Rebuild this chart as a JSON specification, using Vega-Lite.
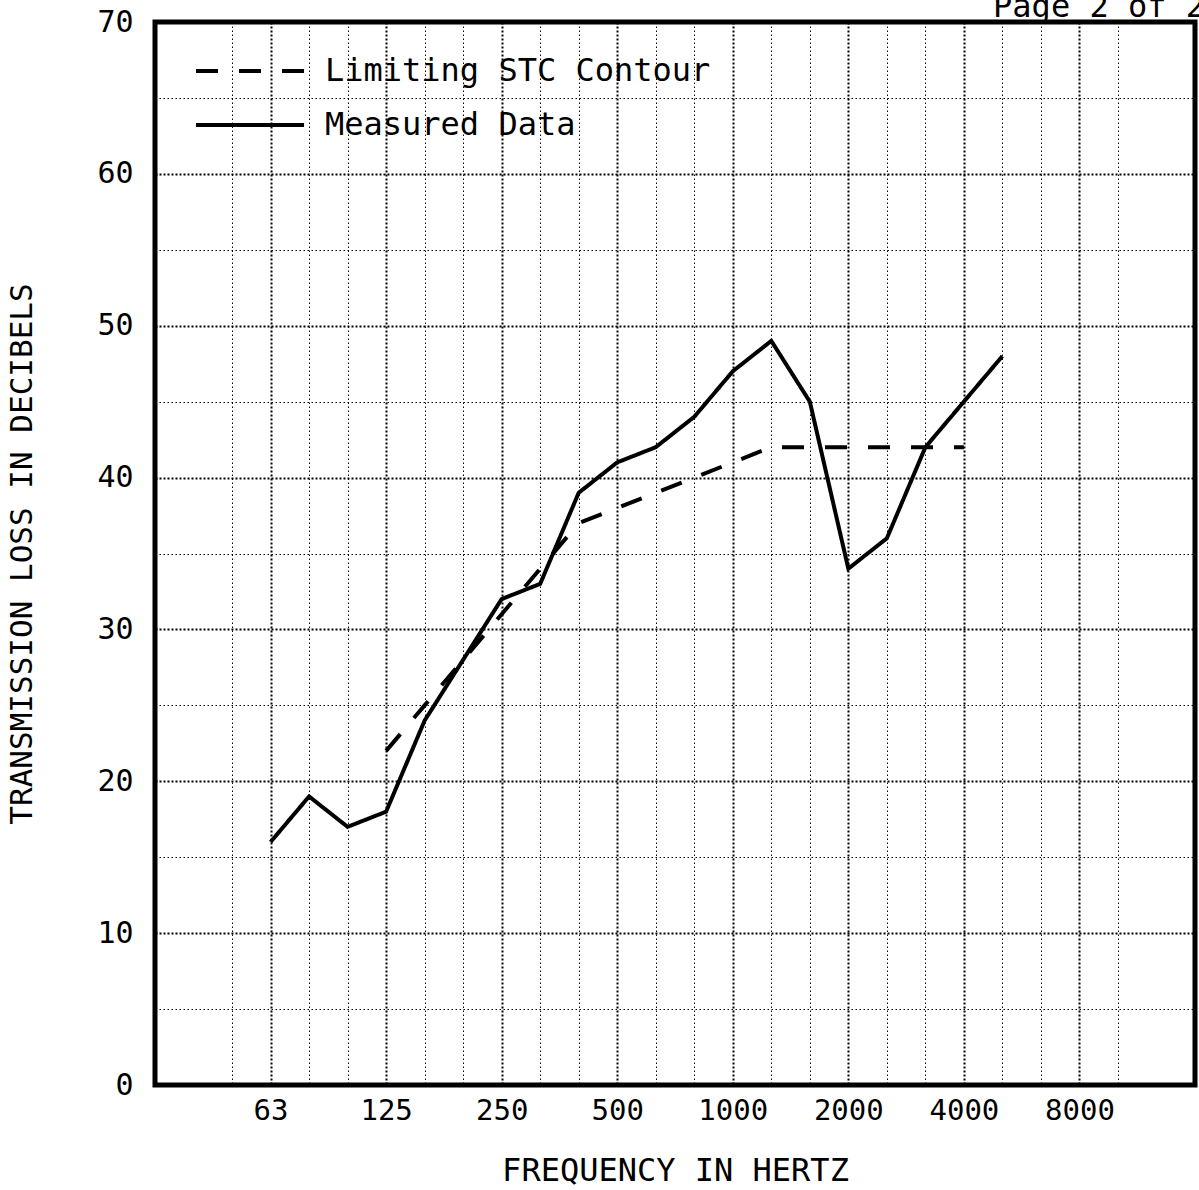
{
  "$schema": "https://vega.github.io/schema/vega-lite/v6.json",
  "width": 1040,
  "height": 1063,
  "autosize": {"type": "none"},
  "padding": {"left": 155, "top": 22, "right": 4, "bottom": 105},
  "background": "white",
  "title": {
    "text": "Page 2 of 2",
    "anchor": "end",
    "frame": "group",
    "orient": "top",
    "offset": 0,
    "dy": 42,
    "baseline": "alphabetic",
    "dx": 10,
    "font": "DejaVu Sans Mono",
    "fontSize": 32,
    "fontWeight": "normal",
    "color": "black"
  },
  "data": {
    "values": [
      {"series": "Measured Data", "freq": 63, "tl": 16},
      {"series": "Measured Data", "freq": 80, "tl": 19},
      {"series": "Measured Data", "freq": 100, "tl": 17},
      {"series": "Measured Data", "freq": 125, "tl": 18},
      {"series": "Measured Data", "freq": 160, "tl": 24},
      {"series": "Measured Data", "freq": 200, "tl": 28},
      {"series": "Measured Data", "freq": 250, "tl": 32},
      {"series": "Measured Data", "freq": 315, "tl": 33},
      {"series": "Measured Data", "freq": 400, "tl": 39},
      {"series": "Measured Data", "freq": 500, "tl": 41},
      {"series": "Measured Data", "freq": 630, "tl": 42},
      {"series": "Measured Data", "freq": 800, "tl": 44},
      {"series": "Measured Data", "freq": 1000, "tl": 47},
      {"series": "Measured Data", "freq": 1250, "tl": 49},
      {"series": "Measured Data", "freq": 1600, "tl": 45},
      {"series": "Measured Data", "freq": 2000, "tl": 34},
      {"series": "Measured Data", "freq": 2500, "tl": 36},
      {"series": "Measured Data", "freq": 3150, "tl": 42},
      {"series": "Measured Data", "freq": 4000, "tl": 45},
      {"series": "Measured Data", "freq": 5000, "tl": 48},
      {"series": "Limiting STC Contour", "freq": 125, "tl": 22},
      {"series": "Limiting STC Contour", "freq": 160, "tl": 25},
      {"series": "Limiting STC Contour", "freq": 200, "tl": 28},
      {"series": "Limiting STC Contour", "freq": 250, "tl": 31},
      {"series": "Limiting STC Contour", "freq": 315, "tl": 34},
      {"series": "Limiting STC Contour", "freq": 400, "tl": 37},
      {"series": "Limiting STC Contour", "freq": 500, "tl": 38},
      {"series": "Limiting STC Contour", "freq": 630, "tl": 39},
      {"series": "Limiting STC Contour", "freq": 800, "tl": 40},
      {"series": "Limiting STC Contour", "freq": 1000, "tl": 41},
      {"series": "Limiting STC Contour", "freq": 1250, "tl": 42},
      {"series": "Limiting STC Contour", "freq": 1600, "tl": 42},
      {"series": "Limiting STC Contour", "freq": 2000, "tl": 42},
      {"series": "Limiting STC Contour", "freq": 2500, "tl": 42},
      {"series": "Limiting STC Contour", "freq": 3150, "tl": 42},
      {"series": "Limiting STC Contour", "freq": 4000, "tl": 42}
    ]
  },
  "mark": {"type": "line", "strokeWidth": 4, "color": "black", "strokeCap": "butt", "strokeJoin": "miter"},
  "encoding": {
    "x": {
      "field": "freq",
      "type": "ordinal",
      "scale": {
        "type": "point",
        "domain": [31.5, 40, 50, 63, 80, 100, 125, 160, 200, 250, 315, 400, 500, 630, 800, 1000, 1250, 1600, 2000, 2500, 3150, 4000, 5000, 6300, 8000, 10000, 12500, 16000],
        "padding": 0
      },
      "axis": {
        "title": "FREQUENCY IN HERTZ",
        "values": [50, 63, 80, 100, 125, 160, 200, 250, 315, 400, 500, 630, 800, 1000, 1250, 1600, 2000, 2500, 3150, 4000, 5000, 6300, 8000, 10000],
        "labelExpr": "indexof([63,125,250,500,1000,2000,4000,8000], datum.value) >= 0 ? datum.label : ''",
        "labelAngle": 0,
        "labelOverlap": false,
        "labelFlush": false,
        "ticks": false,
        "domain": false,
        "grid": true,
        "gridColor": "black",
        "gridWidth": {"condition": {"test": "indexof([63,125,250,500,1000,2000,4000,8000], datum.value) >= 0", "value": 2}, "value": 1},
        "gridDash": {"condition": {"test": "indexof([63,125,250,500,1000,2000,4000,8000], datum.value) >= 0", "value": [2, 2]}, "value": [1.5, 2.5]},
        "labelFont": "DejaVu Sans Mono",
        "labelFontSize": 29,
        "labelColor": "black",
        "labelPadding": 11,
        "titleFont": "DejaVu Sans Mono",
        "titleFontSize": 32,
        "titleFontWeight": "normal",
        "titleColor": "black",
        "titlePadding": 30
      }
    },
    "y": {
      "field": "tl",
      "type": "quantitative",
      "scale": {"domain": [0, 70], "nice": false},
      "axis": {
        "title": "TRANSMISSION LOSS IN DECIBELS",
        "values": [0, 5, 10, 15, 20, 25, 30, 35, 40, 45, 50, 55, 60, 65, 70],
        "labelExpr": "datum.value % 10 == 0 ? datum.label : ''",
        "labelOverlap": false,
        "labelFlush": false,
        "ticks": false,
        "domain": false,
        "grid": true,
        "gridColor": "black",
        "gridWidth": {"condition": {"test": "datum.value % 10 == 0", "value": 2}, "value": 1},
        "gridDash": {"condition": {"test": "datum.value % 10 == 0", "value": [2, 2]}, "value": [1.5, 2.5]},
        "labelFont": "DejaVu Sans Mono",
        "labelFontSize": 30,
        "labelColor": "black",
        "labelPadding": 22,
        "titleFont": "DejaVu Sans Mono",
        "titleFontSize": 31,
        "titleFontWeight": "normal",
        "titleColor": "black",
        "titlePadding": 58
      }
    },
    "strokeDash": {
      "field": "series",
      "type": "nominal",
      "scale": {"domain": ["Limiting STC Contour", "Measured Data"], "range": [[22, 21], [1, 0]]},
      "legend": {
        "title": null,
        "orient": "none",
        "legendX": 39,
        "legendY": 22,
        "symbolType": "stroke",
        "symbolSize": 11664,
        "symbolStrokeWidth": 4,
        "symbolStrokeColor": "black",
        "labelFont": "DejaVu Sans Mono",
        "labelFontSize": 32,
        "labelColor": "black",
        "labelOffset": 19,
        "labelLimit": 0,
        "clipHeight": 54,
        "rowPadding": 0,
        "padding": 0
      }
    }
  },
  "config": {
    "view": {"stroke": "black", "strokeWidth": 5},
    "font": "DejaVu Sans Mono"
  }
}
